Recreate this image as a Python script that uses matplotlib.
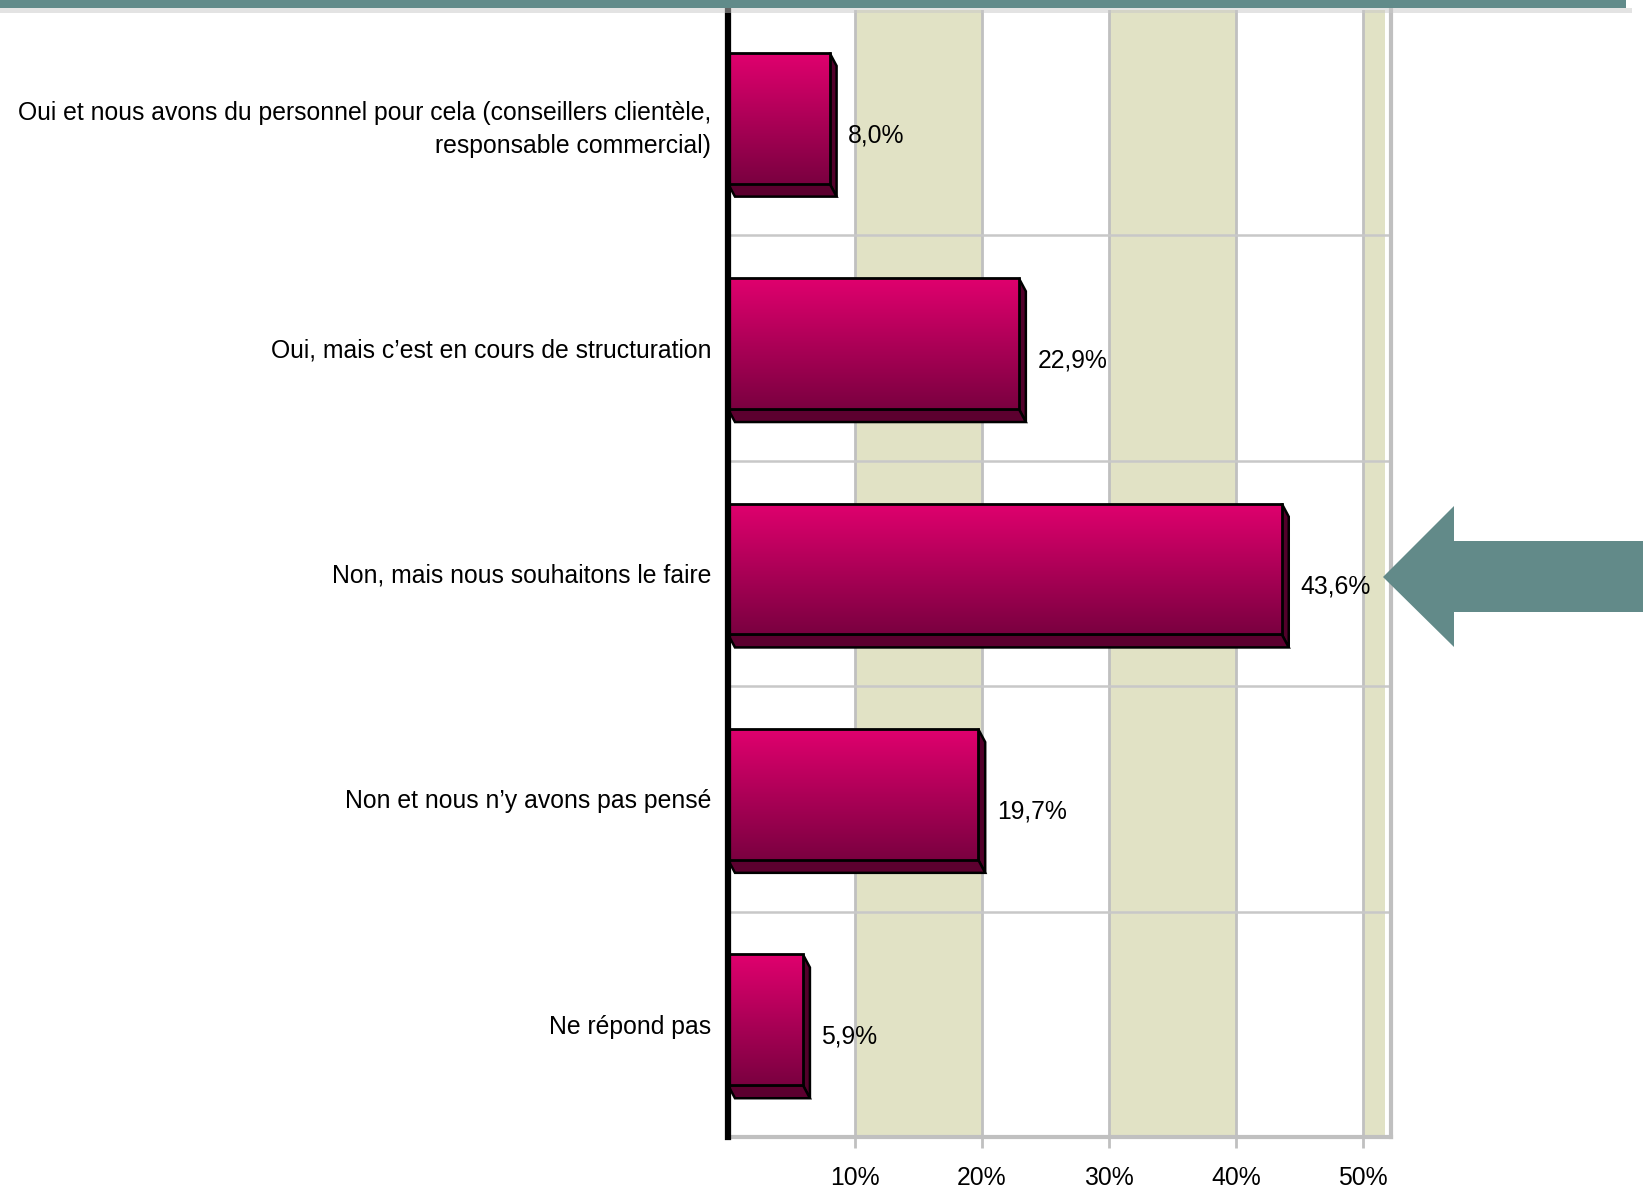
import numpy as np
from matplotlib import pyplot as plt
from matplotlib.colors import LinearSegmentedColormap
from matplotlib.patches import Polygon, Rectangle

# Data
categories = [
    "Oui et nous avons du personnel pour cela (conseillers clientèle,\nresponsable commercial)",
    "Oui, mais c’est en cours de structuration",
    "Non, mais nous souhaitons le faire",
    "Non et nous n’y avons pas pensé",
    "Ne répond pas",
]
values = [8.0, 22.9, 43.6, 19.7, 5.9]
xticks = [10, 20, 30, 40, 50]

plt.rcParams["font.family"] = ["Liberation Sans", "DejaVu Sans"]

W, H = 1643, 1188
fig = plt.figure(figsize=(W / 100, H / 100), dpi=100)
fig.patch.set_facecolor("white")

# axes box in pixels (from top-left)
x0, x1 = 728, 1391
y0, y1 = 10, 1137
ax = fig.add_axes([x0 / W, 1 - y1 / H, (x1 - x0) / W, (y1 - y0) / H])

xmax = 52.2
ax.set_xlim(0, xmax)
ax.set_ylim(len(categories) - 0.5, -0.5)

# alternating beige bands
band = "#E1E2C5"
for a, b in [(10, 20), (30, 40), (50, 51.7)]:
    ax.axvspan(a, b, color=band, zorder=0, lw=0)
for t in xticks:
    ax.axvline(t, color="#C0C0C0", lw=2, zorder=1)
for k in range(len(categories) - 1):
    ax.axhline(k + 0.5, color="#C8C8C8", lw=1.8, zorder=1)

# 3D bars with vertical gradient
grad_cmap = LinearSegmentedColormap.from_list("bar", ["#E0006E", "#7A0040"])
gradient = np.linspace(0, 1, 256).reshape(-1, 1)
h = 0.58
dx = 0.55
dy = 0.058
for i, v in enumerate(values):
    yc = i - 0.02
    top, bot = yc - h / 2, yc + h / 2
    side = Polygon([(v, top), (v + dx, top + dy), (v + dx, bot + dy), (v, bot)],
                   closed=True, fc="#52002A", ec="black", lw=1.8, zorder=3)
    bottom = Polygon([(0, bot), (v, bot), (v + dx, bot + dy), (dx, bot + dy)],
                     closed=True, fc="#5C002F", ec="black", lw=1.8, zorder=3)
    ax.add_patch(side)
    ax.add_patch(bottom)
    bar = ax.barh(yc, v, height=h, left=0, color="none", edgecolor="black",
                  lw=2, zorder=5)[0]
    im = ax.imshow(gradient, cmap=grad_cmap, aspect="auto",
                   extent=(0, v, bot, top), origin="upper", zorder=4)
    im.set_clip_path(bar)
    label = f"{v:.1f}".replace(".", ",") + "%"
    ax.text(v + 1.45, i + 0.056, label, ha="left", va="center",
            fontsize=17.8, color="black", zorder=6)

ax.set_xlim(0, xmax)
ax.set_ylim(len(categories) - 0.5, -0.5)

# axes styling
ax.set_yticks(range(len(categories)))
ax.set_yticklabels(categories, fontsize=17.8, linespacing=1.45)
ax.tick_params(axis="y", length=0, pad=12)
ax.set_xticks(xticks)
ax.set_xticklabels([f"{t}%" for t in xticks], fontsize=17.8)
ax.tick_params(axis="x", length=8, width=2, color="#C0C0C0", pad=13)

ax.spines["top"].set_visible(False)
ax.spines["left"].set_color("black")
ax.spines["left"].set_linewidth(4.5)
ax.spines["left"].set_zorder(7)
ax.spines["bottom"].set_color("#C0C0C0")
ax.spines["bottom"].set_linewidth(3)
ax.spines["right"].set_color("#C0C0C0")
ax.spines["right"].set_linewidth(3)

# header band across the top
fig.patches.append(Rectangle((0, 1 - 13 / H), 1632 / W, 5 / H, transform=fig.transFigure,
                             fc="#C8C8C8", ec="none", alpha=0.5, zorder=9))
fig.patches.append(Rectangle((0, 1 - 8 / H), 1626 / W, 8 / H, transform=fig.transFigure,
                             fc="#618B8A", ec="none", zorder=10))

# pointing arrow on the right
arrow_px = [(1383, 577), (1454, 506), (1454, 541), (1643, 541),
            (1643, 612), (1454, 612), (1454, 647)]
fig.patches.append(Polygon([(px / W, 1 - py / H) for px, py in arrow_px], closed=True,
                           transform=fig.transFigure, fc="#628A89", ec="none", zorder=10))

fig.savefig("out.png", dpi=100)
